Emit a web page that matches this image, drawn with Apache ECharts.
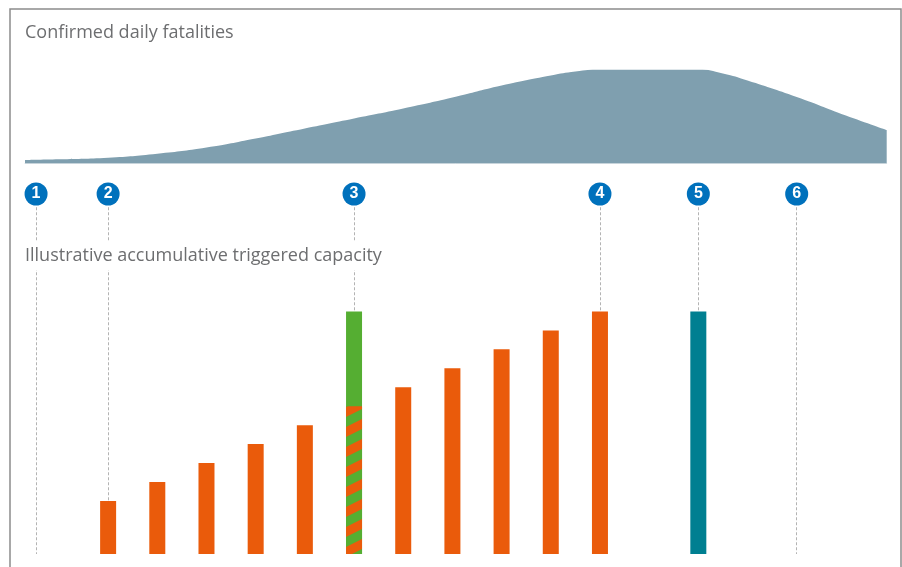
<!DOCTYPE html>
<html>
<head>
<meta charset="utf-8">
<script src="https://cdn.jsdelivr.net/npm/echarts@6/dist/echarts.min.js"></script>
<style>
  html, body { margin: 0; padding: 0; background: #fff; }
  #main { width: 902px; height: 567px; }
</style>
</head>
<body>
<div id="main"></div>
<script>
const chart = echarts.init(document.getElementById("main"));

// fatalities curve (x in days, y in deaths per day)
const fatalDays = [-6.9, 0, 10, 20, 30, 40, 50, 60, 70, 80, 90, 100, 105, 110, 120, 130, 135, 140, 150, 160, 168.3];
const fatalities = [35, 42, 58, 98, 160, 250, 350, 450, 550, 660, 780, 880, 920, 940, 940, 940, 900, 830, 665, 480, 335];

// triggered capacity bars
const barDays = [10, 20, 30, 40, 50, 60, 70, 80, 90, 100, 110];
const capacity = [28, 38, 48, 58, 68, 78, 88, 98, 108, 118, 128];
const stripedIndex = 5;
const greenDay = 60;
const greenTotal = 128;
const tealDay = 130;
const tealValue = 128;

// milestone markers
const markerDays = [-4.65, 10, 60, 110, 130, 150];
const markerLabels = ["1", "2", "3", "4", "5", "6"];

const xMin = -6.9, xMax = 168.3;
const capMax = 190;

const ORANGE = "#ea5b0b";
const GREEN = "#55ae32";
const TEAL = "#007f91";
const BLUE = "#0071bc";
const GREY_TEXT = "#6d6e70";

// diagonal stripe pattern for the mixed bar
function stripes(p) {
    const c = document.createElement("canvas");
    c.width = p * 2;
    c.height = p;
    const ctx = c.getContext("2d");
    ctx.fillStyle = GREEN;
    ctx.fillRect(0, 0, p * 2, p);
    ctx.fillStyle = ORANGE;
    for (let k = -1; k <= 3; k++) {
        ctx.beginPath();
        ctx.moveTo(0, k * p);
        ctx.lineTo(p * 2, k * p - p);
        ctx.lineTo(p * 2, k * p - p / 2);
        ctx.lineTo(0, k * p + p / 2);
        ctx.closePath();
        ctx.fill();
    }
    return c;
}

const orangeData = barDays.map((d, i) => {
    if (i === stripedIndex) {
        return {
            value: [d, capacity[i]],
            itemStyle: { color: { image: stripes(20), repeat: "repeat" } }
        };
    }
    return [d, capacity[i]];
});

const hiddenAxis = {
    axisLine: { show: false },
    axisTick: { show: false },
    axisLabel: { show: false },
    splitLine: { show: false }
};

const labelFont = { fontFamily: "Open Sans", fontSize: 18, fontWeight: "normal", color: GREY_TEXT, lineHeight: 20 };

let option = {
    animation: false,
    title: [
        {
            text: "Confirmed daily fatalities",
            left: 20,
            top: 18,
            textStyle: labelFont
        },
        {
            text: "Illustrative accumulative triggered capacity",
            left: 20,
            top: 242,
            padding: [4, 5],
            backgroundColor: "#fff",
            textStyle: labelFont
        }
    ],
    graphic: [
        {
            type: "rect",
            shape: { x: 10, y: 9, width: 891, height: 620 },
            style: { fill: null, stroke: "#8c8c8c", lineWidth: 1.5 },
            silent: true
        }
    ],
    grid: [
        { left: 25, right: 15.3, top: 69.5, bottom: 403.5 },
        { left: 25, right: 15.3, top: 194, bottom: 13 }
    ],
    xAxis: [
        {
            type: "value", gridIndex: 0, min: xMin, max: xMax,
            ...hiddenAxis,
            axisLine: { show: true, lineStyle: { color: "#dfe6ea", width: 1 } }
        },
        { type: "value", gridIndex: 1, min: xMin, max: xMax, ...hiddenAxis }
    ],
    yAxis: [
        { type: "value", gridIndex: 0, min: 0, max: 940, ...hiddenAxis },
        { type: "value", gridIndex: 1, min: 0, max: capMax, ...hiddenAxis }
    ],
    series: [
        {
            name: "Fatalities",
            type: "line",
            xAxisIndex: 0,
            yAxisIndex: 0,
            data: fatalDays.map((d, i) => [d, fatalities[i]]),
            smooth: 0.5,
            symbol: "none",
            lineStyle: { width: 0 },
            areaStyle: { color: "#7f9faf", opacity: 1 }
        },
        {
            name: "Guides",
            type: "lines",
            coordinateSystem: "cartesian2d",
            xAxisIndex: 1,
            yAxisIndex: 1,
            z: 1,
            silent: true,
            lineStyle: { color: "#b3b3b3", type: [3, 2], width: 1, opacity: 1 },
            data: markerDays.map((d) => ({ coords: [[d, capMax - 7], [d, 0]] }))
        },
        {
            name: "Markers",
            type: "scatter",
            xAxisIndex: 1,
            yAxisIndex: 1,
            z: 5,
            symbolSize: 23,
            data: markerDays.map((d, i) => ({ value: [d, capMax], name: markerLabels[i] })),
            itemStyle: { color: BLUE, opacity: 1 },
            label: {
                show: true,
                position: "inside",
                formatter: "{b}",
                color: "#fff",
                fontFamily: "Liberation Sans",
                fontWeight: "bold",
                fontSize: 16
            }
        },
        {
            name: "Green",
            type: "bar",
            xAxisIndex: 1,
            yAxisIndex: 1,
            z: 3,
            barWidth: 16,
            barGap: "-100%",
            data: [[greenDay, greenTotal]],
            itemStyle: { color: GREEN }
        },
        {
            name: "Orange",
            type: "bar",
            xAxisIndex: 1,
            yAxisIndex: 1,
            z: 4,
            barWidth: 16,
            barGap: "-100%",
            data: orangeData,
            itemStyle: { color: ORANGE }
        },
        {
            name: "Teal",
            type: "bar",
            xAxisIndex: 1,
            yAxisIndex: 1,
            z: 4,
            barWidth: 16,
            barGap: "-100%",
            data: [[tealDay, tealValue]],
            itemStyle: { color: TEAL }
        }
    ]
};
chart.setOption(option);
</script>
</body>
</html>
